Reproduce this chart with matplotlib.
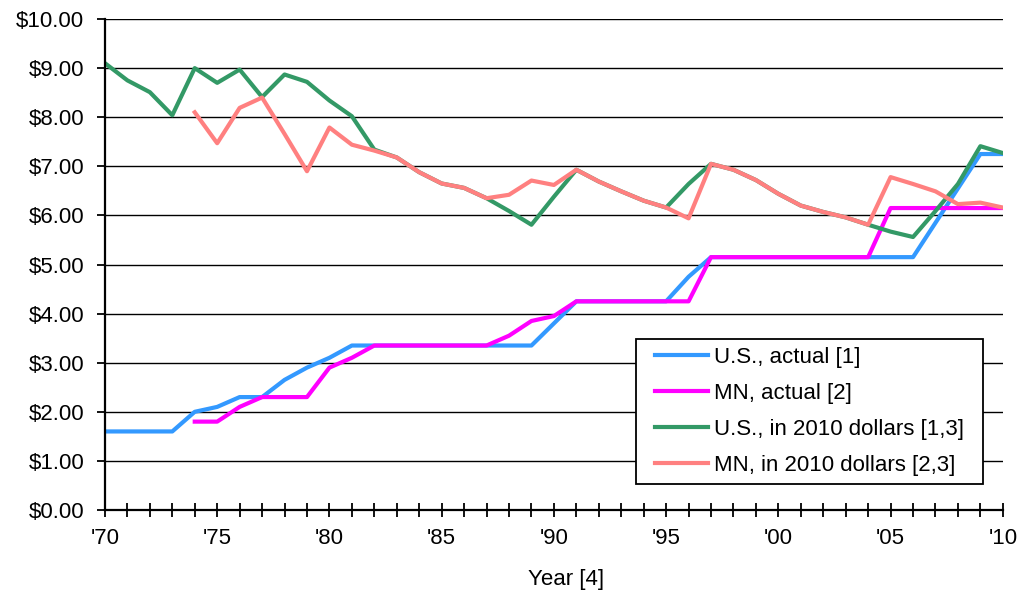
import matplotlib.pyplot as plt
from matplotlib.ticker import MultipleLocator, FuncFormatter
from matplotlib.patches import Rectangle

plt.rcParams['font.family'] = ['Liberation Sans', 'DejaVu Sans']

# data
years = list(range(1970, 2011))
us_actual = [1.60, 1.60, 1.60, 1.60, 2.00, 2.10, 2.30, 2.30, 2.65, 2.90,
             3.10, 3.35, 3.35, 3.35, 3.35, 3.35, 3.35, 3.35, 3.35, 3.35,
             3.80, 4.25, 4.25, 4.25, 4.25, 4.25, 4.75, 5.15, 5.15, 5.15,
             5.15, 5.15, 5.15, 5.15, 5.15, 5.15, 5.15, 5.85, 6.55, 7.25, 7.25]
mn_years = list(range(1974, 2011))
mn_actual = [1.80, 1.80, 2.10, 2.30, 2.30, 2.30, 2.90, 3.10, 3.35, 3.35,
             3.35, 3.35, 3.35, 3.35, 3.55, 3.85, 3.95, 4.25, 4.25, 4.25,
             4.25, 4.25, 4.25, 5.15, 5.15, 5.15, 5.15, 5.15, 5.15, 5.15,
             5.15, 6.15, 6.15, 6.15, 6.15, 6.15, 6.15]
us_real = [9.10, 8.75, 8.51, 8.04, 9.00, 8.70, 8.97, 8.41, 8.87, 8.72,
           8.34, 8.02, 7.34, 7.18, 6.88, 6.65, 6.56, 6.35, 6.09, 5.81,
           6.38, 6.93, 6.69, 6.49, 6.30, 6.16, 6.64, 7.05, 6.93, 6.72,
           6.44, 6.20, 6.07, 5.96, 5.81, 5.67, 5.56, 6.09, 6.64, 7.41, 7.27]
mn_real = [8.10, 7.47, 8.19, 8.40, 7.66, 6.90, 7.79, 7.44, 7.32, 7.18,
           6.88, 6.65, 6.56, 6.35, 6.42, 6.71, 6.62, 6.93, 6.69, 6.49,
           6.30, 6.16, 5.94, 7.05, 6.93, 6.72, 6.44, 6.20, 6.07, 5.96,
           5.81, 6.78, 6.64, 6.49, 6.23, 6.26, 6.16]

fig = plt.figure(figsize=(10.18, 5.94), dpi=100)
ax = fig.add_axes([0.1031, 0.1414, 0.882, 0.8266])

lw = 3
ax.plot(years, us_actual, color='#3399FF', lw=lw, label='U.S., actual [1]')
ax.plot(mn_years, mn_actual, color='#FF00FF', lw=lw, label='MN, actual [2]')
ax.plot(years, us_real, color='#339966', lw=lw, label='U.S., in 2010 dollars [1,3]')
ax.plot(mn_years, mn_real, color='#FF8080', lw=lw, label='MN, in 2010 dollars [2,3]')

ax.set_xlim(1970, 2010)
ax.set_ylim(0, 10)
ax.xaxis.set_major_locator(MultipleLocator(5))
ax.xaxis.set_minor_locator(MultipleLocator(1))
ax.xaxis.set_major_formatter(FuncFormatter(lambda v, p: "'%02d" % (int(v) % 100)))
ax.yaxis.set_major_locator(MultipleLocator(1))
ax.yaxis.set_major_formatter(FuncFormatter(lambda v, p: '${:.2f}'.format(v)))

ax.tick_params(axis='x', which='both', direction='inout', length=10, width=1.3,
               labelsize=16, pad=8)
ax.tick_params(axis='y', direction='out', length=6, width=1.3, labelsize=16, pad=9)
ax.grid(axis='y', color='black', lw=1)
ax.set_axisbelow(True)
for s in ['top', 'right']:
    ax.spines[s].set_visible(False)
for s in ['left', 'bottom']:
    ax.spines[s].set_linewidth(1.6)

ax.set_xlabel('Year [4]', fontsize=16)
ax.xaxis.set_label_coords(0.514, -0.12)

# legend box drawn separately (wider horizontal padding than vertical)
box = Rectangle((0.591, 0.053), 0.387, 0.295, transform=ax.transAxes,
                facecolor='white', edgecolor='black', lw=1.3, zorder=4)
ax.add_patch(box)
leg = ax.legend(loc='center', bbox_to_anchor=(0.591 + 0.387 / 2, 0.053 + 0.295 / 2),
                fontsize=16, frameon=False, handlelength=2.4, handletextpad=0.25,
                labelspacing=0.68, borderpad=0, borderaxespad=0)
leg.set_zorder(5)

fig.savefig('out.png', dpi=100)
